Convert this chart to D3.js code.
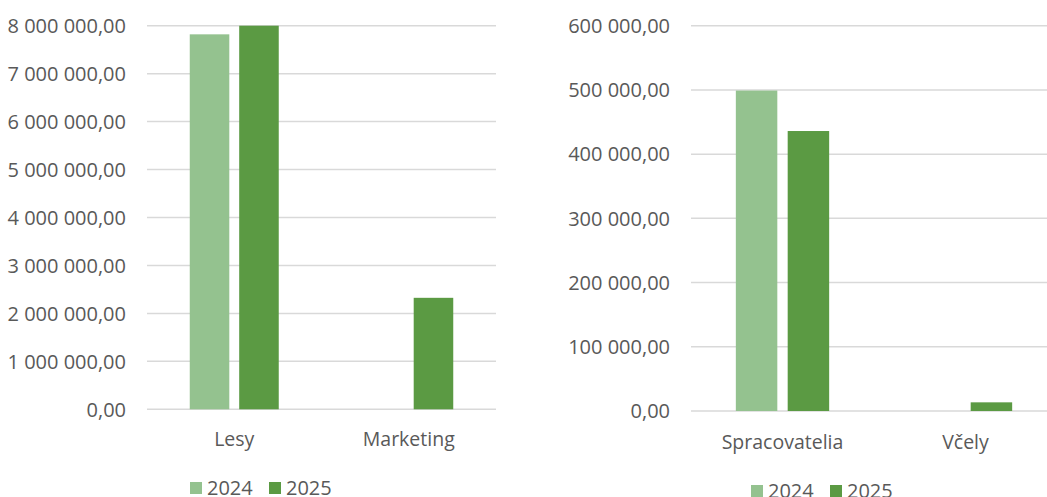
<!DOCTYPE html>
<html>
<head>
<meta charset="utf-8">
<script src="https://cdn.jsdelivr.net/npm/d3@7"></script>
<style>
  body { margin: 0; background: #fff; }
  svg { display: block; font-family: "Open Sans", "Noto Sans", sans-serif; }
  .grid line { stroke: #d9d9d9; stroke-width: 1.5; }
  .tick-label, .cat-label, .legend-label { fill: #595959; }
</style>
</head>
<body>
<svg id="chart" width="1047" height="497"></svg>
<script>
// --- data ---
const series = ["2024", "2025"];
const seriesColors = ["#94c28f", "#5b9a43"];

const leftCategories = ["Lesy", "Marketing"];
const left2024 = [7820000, 0];
const left2025 = [8000000, 2325000];
const leftTicks = [0, 1000000, 2000000, 3000000, 4000000, 5000000, 6000000, 7000000, 8000000];
const leftTickLabels = ["0,00", "1 000 000,00", "2 000 000,00", "3 000 000,00", "4 000 000,00",
  "5 000 000,00", "6 000 000,00", "7 000 000,00", "8 000 000,00"];

const rightCategories = ["Spracovatelia", "Včely"];
const right2024 = [499000, 0];
const right2025 = [436000, 13500];
const rightTicks = [0, 100000, 200000, 300000, 400000, 500000, 600000];
const rightTickLabels = ["0,00", "100 000,00", "200 000,00", "300 000,00", "400 000,00",
  "500 000,00", "600 000,00"];

const svg = d3.select("#chart");

function drawPanel(cfg) {
  const g = svg.append("g");
  const y = d3.scaleLinear().domain([0, cfg.max]).range([cfg.bottom, cfg.top]);
  const x0 = d3.scaleBand().domain(cfg.categories).range([cfg.left, cfg.right]);
  const group = x0.bandwidth() * 0.51;
  const x1 = d3.scaleBand().domain(series)
    .range([(x0.bandwidth() - group) / 2, (x0.bandwidth() + group) / 2])
    .paddingInner(0.2);

  // gridlines
  g.append("g").attr("class", "grid")
    .selectAll("line").data(cfg.ticks).enter().append("line")
    .attr("x1", cfg.left).attr("x2", Math.min(cfg.right, 1047))
    .attr("y1", d => y(d)).attr("y2", d => y(d));

  // tick labels
  g.selectAll(".tick-label").data(cfg.ticks).enter().append("text")
    .attr("class", "tick-label")
    .attr("x", cfg.left - 21)
    .attr("y", d => y(d))
    .attr("dy", "0.36em")
    .attr("text-anchor", "end")
    .style("font-size", "20px")
    .text((d, i) => cfg.tickLabels[i]);

  // bars
  const rows = cfg.categories.map((c, i) => ({ cat: c, vals: [cfg.s2024[i], cfg.s2025[i]] }));
  const cat = g.selectAll(".cat").data(rows).enter().append("g")
    .attr("transform", d => `translate(${x0(d.cat)},0)`);
  cat.selectAll("rect")
    .data(d => d.vals.map((v, k) => ({ key: series[k], v: v, color: seriesColors[k] })))
    .enter().append("rect")
    .filter(d => d.v > 0)
    .attr("x", d => x1(d.key))
    .attr("width", x1.bandwidth())
    .attr("y", d => y(d.v))
    .attr("height", d => y(0) - y(d.v))
    .attr("fill", d => d.color);

  // category labels
  g.selectAll(".cat-label").data(cfg.categories).enter().append("text")
    .attr("class", "cat-label")
    .attr("x", d => x0(d) + x0.bandwidth() / 2)
    .attr("y", cfg.labelY)
    .attr("text-anchor", "middle")
    .style("font-size", "19.5px")
    .text(d => d);

  // legend
  const lg = g.append("g").attr("transform", `translate(${cfg.legendX},${cfg.legendY})`);
  series.forEach((s, k) => {
    const off = k * 79;
    lg.append("rect").attr("x", off).attr("y", -6).attr("width", 12).attr("height", 12)
      .attr("fill", seriesColors[k]);
    lg.append("text").attr("class", "legend-label")
      .attr("x", off + 17).attr("y", 0).attr("dy", "0.36em")
      .style("font-size", "20px")
      .text(s);
  });
}

drawPanel({
  categories: leftCategories, s2024: left2024, s2025: left2025,
  ticks: leftTicks, tickLabels: leftTickLabels, max: 8000000,
  left: 147, right: 496, top: 25.7, bottom: 409.3,
  labelY: 446, legendX: 190, legendY: 488
});

drawPanel({
  categories: rightCategories, s2024: right2024, s2025: right2025,
  ticks: rightTicks, tickLabels: rightTickLabels, max: 600000,
  left: 691, right: 1057, top: 25.7, bottom: 411,
  labelY: 449, legendX: 751, legendY: 491
});
</script>
</body>
</html>
